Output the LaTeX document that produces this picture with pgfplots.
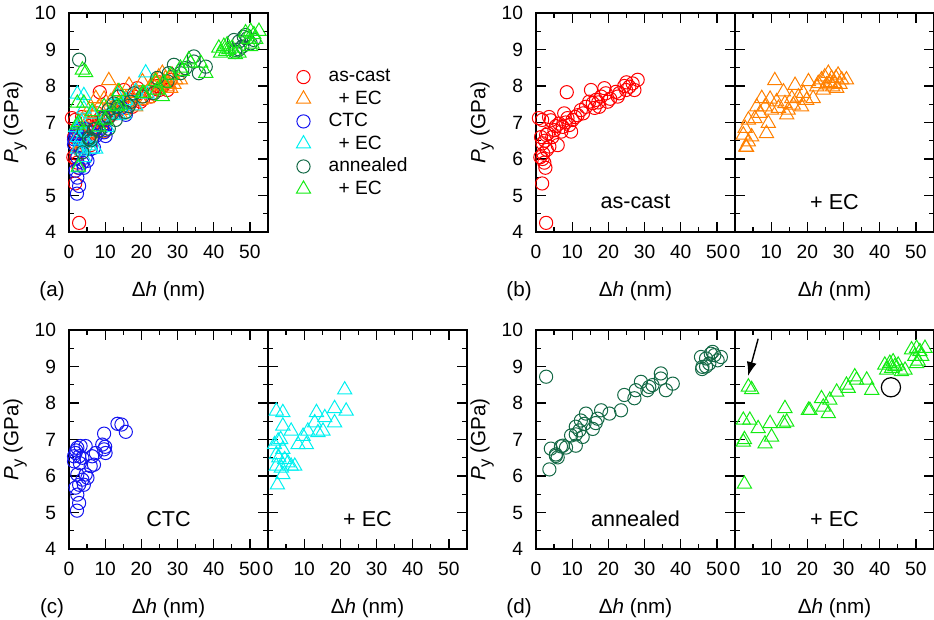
\documentclass[border=0pt]{standalone}
\usepackage{fontspec}
\setmainfont{Liberation Sans}
\usepackage{pgfplots}
\usepackage{pgfplotstable}
\pgfplotsset{compat=1.18}
\usetikzlibrary{arrows.meta}

\definecolor{cAC}{RGB}{255,0,0}
\definecolor{cACec}{RGB}{255,128,0}
\definecolor{cCTC}{RGB}{20,20,240}
\definecolor{cCTCec}{RGB}{0,240,240}
\definecolor{cAN}{RGB}{20,105,70}
\definecolor{cANec}{RGB}{20,235,20}

% as-cast
\pgfplotstableread{
x y
0.8 7.12
1.7 7.07
3.6 7.15
4.1 7.06
2.8 4.25
1.7 5.33
2.6 5.76
1.8 6.00
2.3 5.90
1.2 6.05
2.0 6.15
2.8 6.66
1.4 6.60
1.8 6.43
3.0 6.25
3.7 6.34
2.5 6.50
3.3 6.70
6.0 6.38
5.1 6.79
4.5 6.60
6.4 6.97
5.5 6.90
7.0 6.75
7.8 7.25
8.7 7.12
7.4 6.88
8.5 7.83
9.2 6.93
9.7 6.75
8.2 7.00
10.1 7.07
10.8 7.15
11.5 7.20
12.4 7.34
13.0 7.25
13.8 7.43
14.7 7.57
15.2 7.89
15.7 7.53
16.2 7.40
16.6 7.62
17.5 7.43
17.2 7.55
18.0 7.71
18.9 7.94
19.3 7.80
19.8 7.57
20.5 7.65
22.1 7.84
22.6 7.71
23.0 7.80
24.4 8.00
24.9 7.89
25.0 8.10
25.8 7.98
26.7 8.07
27.2 7.89
28.1 8.17
}\ascast

% as-cast + EC
\pgfplotstableread{
x y
3.0 6.33
3.2 6.32
3.7 6.47
2.3 6.66
4.6 6.61
2.8 6.84
3.7 7.07
5.5 7.11
6.0 7.43
6.9 7.25
7.4 7.66
8.3 7.43
8.7 6.70
9.2 6.98
9.7 7.64
10.1 7.34
11.0 8.15
11.5 7.57
12.0 7.39
13.4 7.84
13.8 7.52
14.3 7.21
14.7 7.34
15.7 7.66
16.1 7.48
16.6 8.02
17.5 7.70
18.4 7.43
18.9 7.80
19.8 7.61
20.3 8.12
21.6 7.66
22.6 7.98
23.0 8.07
23.9 8.17
24.4 7.89
24.8 8.25
25.3 8.03
25.8 8.35
26.3 8.10
26.7 8.21
27.0 7.98
27.6 8.07
27.9 8.22
28.1 7.94
28.5 8.30
29.0 8.05
29.5 8.17
30.8 8.17
}\ascastEC

% CTC
\pgfplotstableread{
x y
2.2 5.05
2.8 5.26
2.3 5.49
1.8 5.68
2.8 5.76
3.7 5.90
5.1 5.95
4.1 5.76
2.3 6.04
4.6 6.04
1.4 6.40
1.8 6.63
2.3 6.77
3.2 6.82
4.6 6.82
3.7 6.50
2.8 6.54
1.4 6.54
2.0 6.70
3.0 6.35
6.4 6.54
6.9 6.31
6.0 6.27
7.4 6.63
9.2 6.86
9.7 6.73
10.1 6.63
10.0 6.80
9.7 7.16
13.4 7.43
14.5 7.41
15.7 7.21
}\ctc

% CTC + EC
\pgfplotstableread{
x y
1.8 6.86
2.3 7.78
2.3 6.59
2.3 6.27
2.6 5.76
2.8 6.96
3.0 6.50
3.5 7.00
3.7 6.22
4.1 7.74
4.1 7.37
4.1 6.73
4.1 6.04
4.6 6.45
5.5 6.36
6.4 7.23
6.4 6.27
7.4 6.27
8.3 6.86
9.7 7.09
10.6 6.86
11.0 7.23
12.9 7.46
13.4 7.74
13.8 7.19
15.2 7.23
15.7 7.60
18.4 7.85
18.4 7.46
21.2 8.36
21.6 7.78
}\ctcEC

% annealed
\pgfplotstableread{
x y
2.8 8.72
3.7 6.18
4.1 6.75
5.5 6.55
6.0 6.51
5.5 6.59
6.9 6.81
7.4 6.83
8.3 6.78
9.7 7.11
11.0 6.83
11.0 7.14
11.0 7.35
12.0 7.25
12.4 7.52
12.9 7.07
13.4 7.43
13.8 7.71
15.7 7.29
16.5 7.45
17.0 7.57
18.0 7.80
20.3 7.71
23.5 7.80
24.4 8.22
27.2 8.13
27.6 8.35
29.0 8.58
30.8 8.35
31.3 8.44
32.2 8.49
34.5 8.81
34.5 8.67
35.9 8.35
37.8 8.53
45.6 9.26
45.9 8.93
46.0 8.99
47.0 9.22
47.0 9.00
47.9 9.08
48.3 9.35
48.8 9.40
49.3 9.31
50.2 9.17
51.1 9.26
}\ann

% annealed + EC
\pgfplotstableread{
x y
2.6 5.78
2.3 6.93
2.6 7.00
3.7 8.44
4.6 8.37
2.3 7.53
4.1 7.53
6.4 7.30
8.3 6.88
9.7 7.44
10.1 7.07
13.4 7.44
13.8 7.85
14.3 7.48
20.3 7.80
20.7 7.80
23.9 8.12
24.4 7.89
25.8 7.71
26.2 8.08
28.1 8.30
30.8 8.49
31.3 8.40
33.1 8.72
33.6 8.63
36.4 8.63
37.8 8.35
41.4 9.04
41.9 8.90
42.8 9.09
43.3 8.95
43.7 9.13
44.2 9.00
45.1 9.04
46.0 8.86
47.0 8.90
48.8 9.46
49.7 9.28
50.2 9.50
50.2 9.08
50.6 9.15
51.1 9.41
51.6 9.28
52.5 9.50
}\annEC

\pgfplotsset{
  panel/.style={
    scale only axis, width=99.5pt, height=109.5pt,
    anchor=south west,
    xmin=0, xmax=55, ymin=4, ymax=10,
    xtick={0,10,...,50}, minor xtick={5,15,...,45},
    ytick={4,5,...,10}, minor ytick={4.5,5.5,...,9.5},
    tick align=inside, xtick pos=both, ytick pos=both,
    major tick length=5pt, minor tick length=2.5pt,
    axis line style={line width=0.6pt, black},
    tick style={line width=0.6pt, black},
    tick label style={font=\fontsize{9.6}{11}\selectfont},
    /pgf/number format/assume math mode=true,
    xticklabel style={yshift=-3pt},
    yticklabel style={xshift=-3pt},
    xlabel={Δ\textit{h} (nm)},
    xlabel style={at={(axis description cs:0.5,-0.27)}, anchor=center,
      font=\fontsize{10.3}{12}\selectfont},
    ylabel={\textit{P}\raisebox{-0.45ex}{\fontsize{8.3}{8}\selectfont y} (GPa)},
    ylabel style={at={(axis description cs:-0.271,0.5)}, anchor=center,
      font=\fontsize{10.3}{12}\selectfont},
    clip=false,
  },
  right panel/.style={yticklabels={}, ylabel={}},
  circ/.style={only marks, mark=o, mark size=3.3pt, mark options={line width=0.5pt}},
  tri/.style={only marks, mark=triangle, mark size=4.1pt, mark options={line width=0.5pt}},
}
\newcommand{\plab}[1]{\node[font=\fontsize{10.8}{12}\selectfont] at (axis description cs:0.5,0.137) {#1};}
\newcommand{\letter}[1]{\node[font=\fontsize{10.3}{12}\selectfont] at (axis description cs:-0.085,-0.27) {#1};}

\begin{document}
\begin{tikzpicture}
\path[use as bounding box] (0,0) rectangle (467pt,310pt);

% (a) all series
\begin{axis}[panel, at={(34.5pt,194pt)},
  legend style={at={(axis description cs:1,1)}, anchor=north west,
    xshift=11pt, yshift=-24pt, draw=none, fill=none,
    font=\fontsize{9.6}{11}\selectfont, row sep=-1pt},
  legend cell align=left]
\addplot[circ, cAC] table {\ascast};
\addlegendentry{\hspace{7pt}as-cast}
\addplot[tri, cACec] table {\ascastEC};
\addlegendentry{\hspace{12pt}+ EC}
\addplot[circ, cCTC] table {\ctc};
\addlegendentry{\hspace{7pt}CTC}
\addplot[tri, cCTCec] table {\ctcEC};
\addlegendentry{\hspace{12pt}+ EC}
\addplot[circ, cAN] table {\ann};
\addlegendentry{\hspace{7pt}annealed}
\addplot[tri, cANec] table {\annEC};
\addlegendentry{\hspace{12pt}+ EC}
\letter{(a)}
\end{axis}

% (b)
\begin{axis}[panel, at={(268pt,194pt)}]
\addplot[circ, cAC] table {\ascast};
\plab{as-cast}
\letter{(b)}
\end{axis}
\begin{axis}[panel, right panel, at={(367.5pt,194pt)}]
\addplot[tri, cACec] table {\ascastEC};
\plab{+ EC}
\end{axis}

% (c)
\begin{axis}[panel, at={(34.5pt,35.5pt)}]
\addplot[circ, cCTC] table {\ctc};
\plab{CTC}
\letter{(c)}
\end{axis}
\begin{axis}[panel, right panel, at={(134pt,35.5pt)}]
\addplot[tri, cCTCec] table {\ctcEC};
\plab{+ EC}
\end{axis}

% (d)
\begin{axis}[panel, at={(268pt,35.5pt)}]
\addplot[circ, cAN] table {\ann};
\plab{annealed}
\letter{(d)}
\end{axis}
\begin{axis}[panel, right panel, at={(367.5pt,35.5pt)}]
\addplot[tri, cANec] table {\annEC};
\addplot[only marks, mark=o, mark size=4.8pt, black, mark options={line width=0.6pt}]
  coordinates {(43.1,8.43)};
\draw[-{Latex[length=7pt,width=5pt]}, line width=0.7pt]
  (axis cs:6.4,9.76) -- (axis cs:3.6,8.74);
\plab{+ EC}
\end{axis}
\end{tikzpicture}
\end{document}
